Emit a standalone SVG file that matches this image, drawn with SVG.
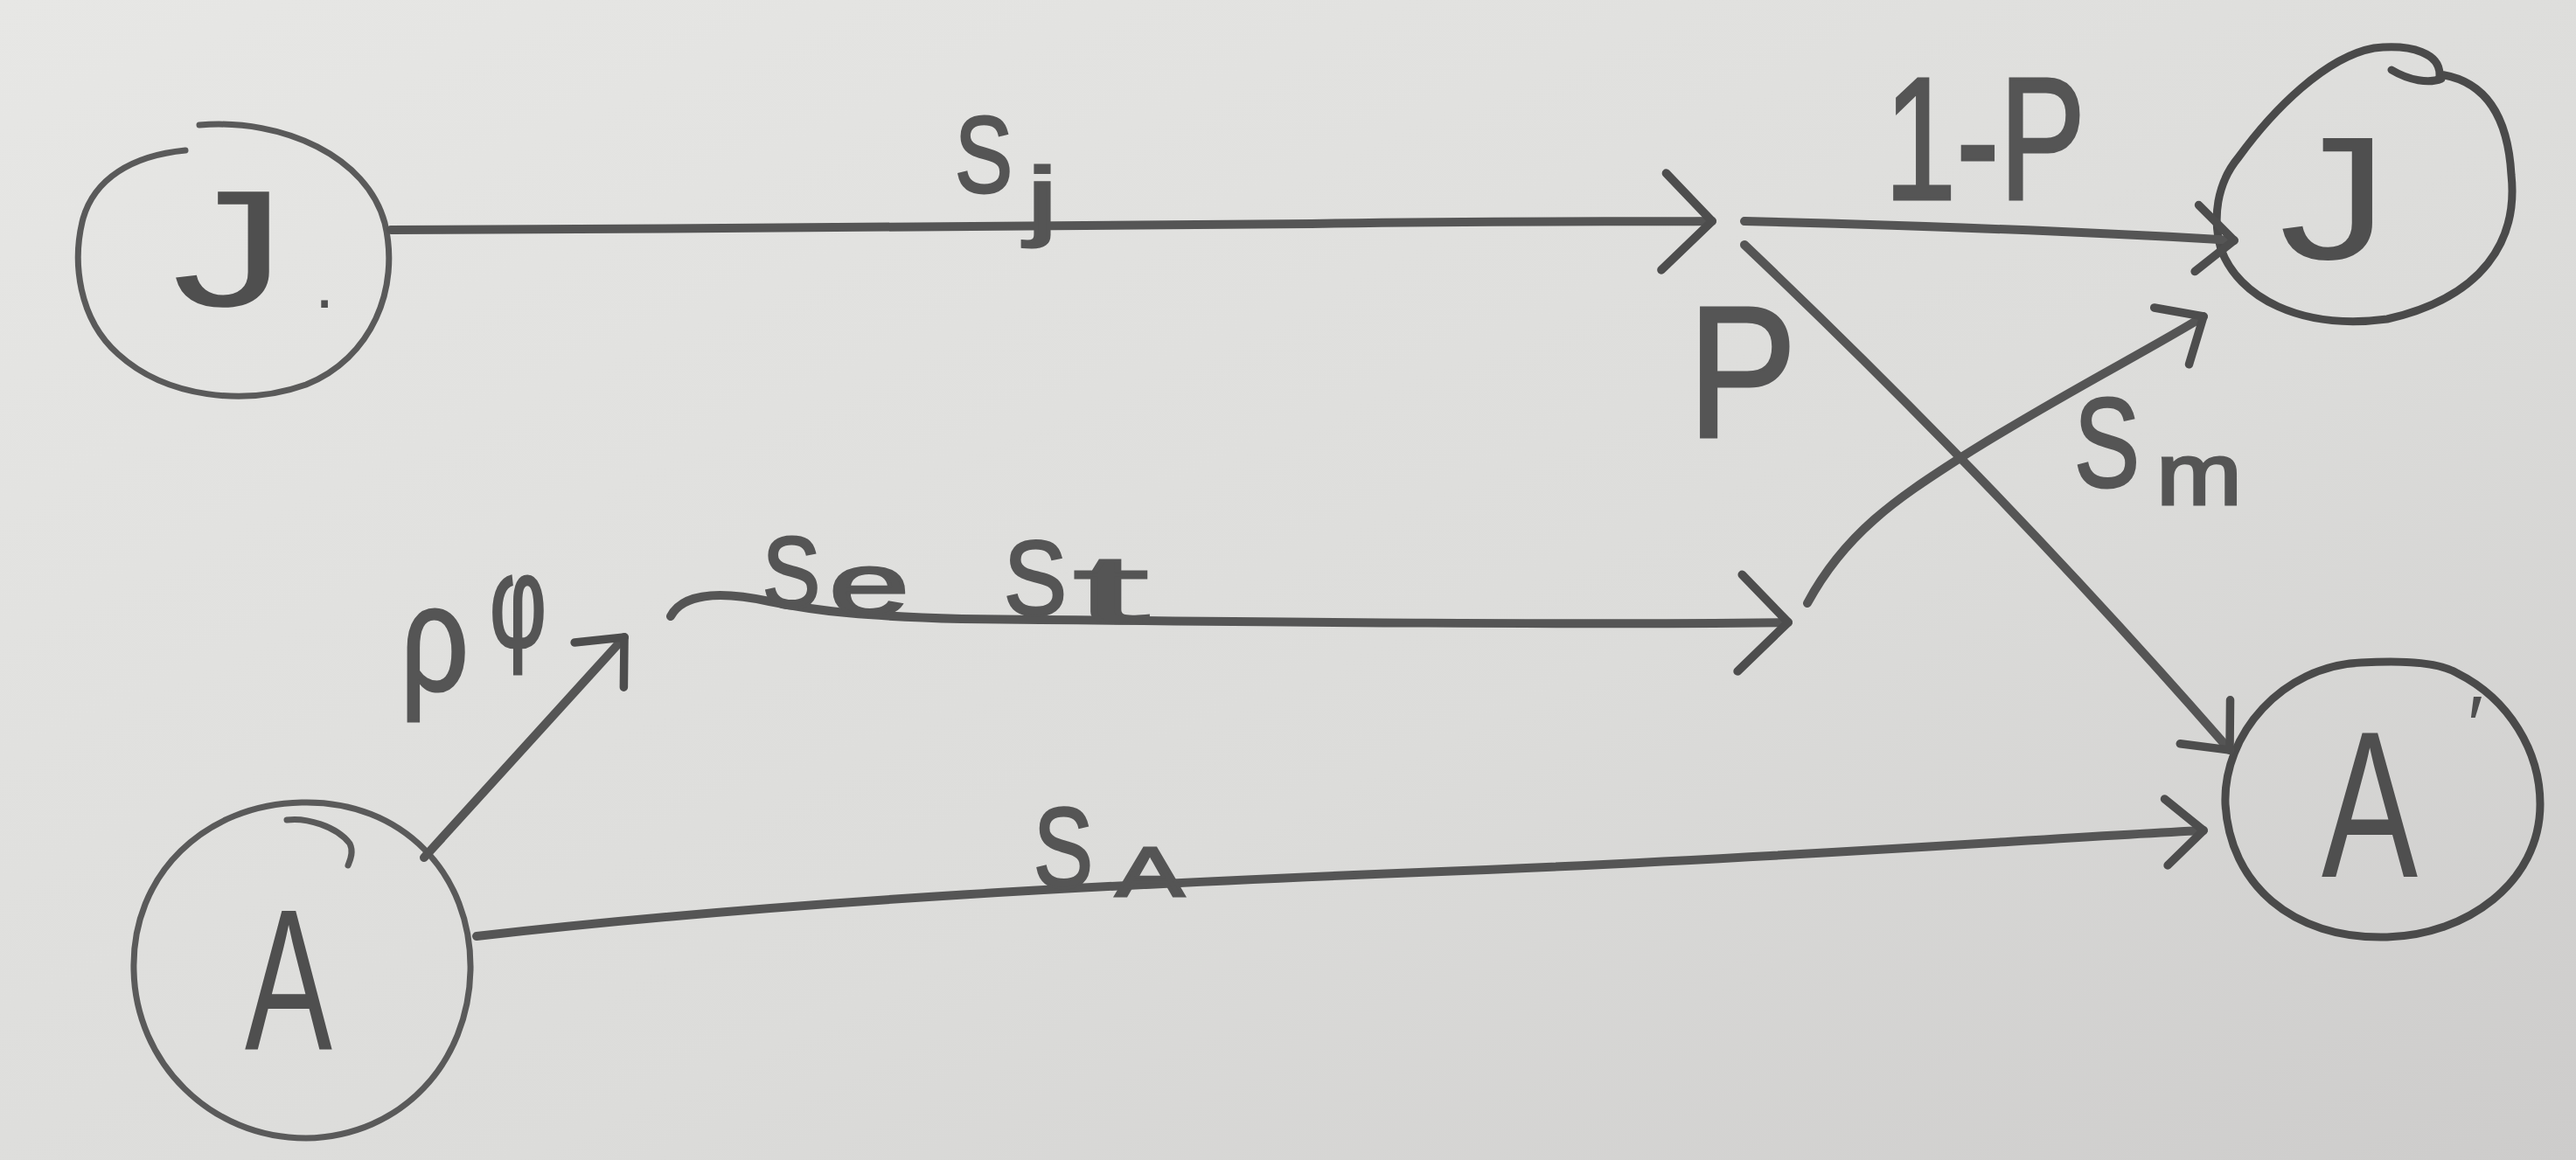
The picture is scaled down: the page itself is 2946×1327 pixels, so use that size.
<svg xmlns="http://www.w3.org/2000/svg" width="2946" height="1327" viewBox="0 0 2946 1327">
  <defs>
    <linearGradient id="paper" x1="0" y1="0" x2="1" y2="1">
      <stop offset="0" stop-color="#e7e7e5"/>
      <stop offset="0.6" stop-color="#dcdcda"/>
      <stop offset="1" stop-color="#cdcccb"/>
    </linearGradient>
    <marker id="ahL" viewBox="0 0 20 20" refX="17" refY="10" markerWidth="130" markerHeight="130" markerUnits="userSpaceOnUse" orient="auto">
      <path d="M9,1.5 L17,10 L8,18.5" fill="none" stroke="#4d4d4d" stroke-width="1.5" stroke-linecap="round" stroke-linejoin="round"/>
    </marker>
    <marker id="ahS" viewBox="0 0 20 20" refX="17" refY="10" markerWidth="95" markerHeight="95" markerUnits="userSpaceOnUse" orient="auto">
      <path d="M8,2 L17,10 L8,18" fill="none" stroke="#4d4d4d" stroke-width="2" stroke-linecap="round" stroke-linejoin="round"/>
    </marker>
  </defs>
  <style>
    .node { fill: none; stroke: #5a5a5a; stroke-width: 7; stroke-linecap: round; }
    .node.dark { stroke: #4a4a4a; stroke-width: 9; }
    .edge { fill: none; stroke: #555555; stroke-width: 10; stroke-linecap: round; stroke-linejoin: round; }
    .lbl { font-family: "Liberation Sans", "DejaVu Sans", sans-serif; fill: #555555; stroke: #555555; stroke-width: 3; }
    .nlbl { font-family: "Liberation Sans", "DejaVu Sans", sans-serif; fill: #4f4f4f; }
  </style>

  <rect x="0" y="0" width="2946" height="1327" fill="url(#paper)"/>

  <!-- Nodes -->
  <g id="node-J-left">
    <path class="node" d="M228,143 C325,135 420,180 440,255 C458,330 425,410 350,440 C280,465 190,455 135,405 C90,365 82,300 95,250 C108,205 150,178 212,172"/>
    <text class="nlbl" font-size="190"><tspan x="197" y="350" textLength="130" lengthAdjust="spacingAndGlyphs">J</tspan><tspan x="360" y="352" font-size="80">.</tspan></text>
  </g>

  <g id="node-J-right">
    <path class="node dark" d="M2560,180 C2600,125 2660,65 2715,55 C2760,50 2790,62 2790,85 C2840,92 2868,130 2872,200 C2880,275 2840,340 2730,365 C2630,378 2560,340 2540,285 C2530,250 2535,210 2560,180 Z"/>
    <path class="node dark" d="M2735,80 C2755,92 2778,96 2792,90"/>
    <text class="nlbl" x="2669" y="296" font-size="200" text-anchor="middle" textLength="125" lengthAdjust="spacingAndGlyphs">J</text>
  </g>

  <g id="node-A-left">
    <path class="node" d="M345,918 C460,915 540,1000 538,1110 C536,1215 460,1300 350,1302 C240,1302 155,1215 153,1110 C150,1000 235,920 345,918 Z"/>
    <path class="node" d="M328,938 C350,935 385,945 400,965 C405,975 400,985 398,990"/>
    <text class="nlbl" x="330" y="1200" font-size="230" text-anchor="middle" textLength="100" lengthAdjust="spacingAndGlyphs">A</text>
  </g>

  <g id="node-A-right">
    <path class="node dark" d="M2700,758 C2750,755 2790,758 2810,770 C2870,800 2905,860 2905,920 C2905,1010 2820,1070 2730,1072 C2620,1075 2550,1010 2545,920 C2542,840 2610,762 2700,758 Z"/>
    <text class="nlbl" font-size="240"><tspan x="2655" y="1003" textLength="110" lengthAdjust="spacingAndGlyphs">A</tspan><tspan x="2822" y="862" font-size="95">′</tspan></text>
  </g>

  <!-- Connectors -->
  <g id="connectors">
    <path class="edge" marker-end="url(#ahL)" d="M447,263 C800,262 1200,258 1500,256 C1700,252 1850,254 1958,253"/>
    <path class="edge" marker-end="url(#ahS)" d="M1995,253 C2200,258 2400,266 2555,275"/>
    <path class="edge" marker-end="url(#ahS)" d="M1995,280 Q2290,560 2550,858"/>
    <path class="edge" marker-end="url(#ahS)" d="M2067,690 C2110,610 2170,570 2240,525 C2350,455 2450,405 2520,362"/>
    <path class="edge" marker-end="url(#ahL)" d="M767,705 C780,680 820,675 880,688 C940,700 990,705 1100,708 C1500,712 1800,715 2045,712"/>
    <path class="edge" marker-end="url(#ahS)" d="M485,981 L714,729"/>
    <path class="edge" marker-end="url(#ahS)" d="M545,1071 C900,1030 1300,1010 1700,995 C2100,978 2350,958 2520,950"/>
  </g>

  <!-- Edge labels -->
  <g id="labels">
    <text class="lbl" x="1092" y="220" font-size="125" textLength="66" lengthAdjust="spacingAndGlyphs">S</text>
    <text class="lbl" x="1174" y="262" font-size="100" textLength="36" lengthAdjust="spacingAndGlyphs">j</text>

    <text class="lbl" x="2155" y="228" font-size="200" textLength="230" lengthAdjust="spacingAndGlyphs">1-P</text>

    <text class="lbl" x="1930" y="500" font-size="215" textLength="125" lengthAdjust="spacingAndGlyphs">P</text>

    <text class="lbl" x="2372" y="557" font-size="145" textLength="75" lengthAdjust="spacingAndGlyphs">S</text>
    <text class="lbl" x="2466" y="577" font-size="100" textLength="98" lengthAdjust="spacingAndGlyphs">m</text>

    <text class="lbl" x="458" y="790" font-size="170" textLength="78" lengthAdjust="spacingAndGlyphs">ρ</text>
    <text class="lbl" x="560" y="740" font-size="150" textLength="65" lengthAdjust="spacingAndGlyphs">φ</text>

    <text class="lbl" x="872" y="695" font-size="115" textLength="66" lengthAdjust="spacingAndGlyphs">S</text>
    <text class="lbl" x="948" y="703" font-size="100" textLength="92" lengthAdjust="spacingAndGlyphs">e</text>

    <text class="lbl" x="1148" y="703" font-size="120" textLength="72" lengthAdjust="spacingAndGlyphs">S</text>
    <text class="lbl" x="1228" y="712" font-size="110" textLength="85" lengthAdjust="spacingAndGlyphs">t</text>

    <text class="lbl" x="1182" y="1015" font-size="130" textLength="68" lengthAdjust="spacingAndGlyphs">S</text>
    <text class="lbl" x="1276" y="1025" font-size="80" textLength="78" lengthAdjust="spacingAndGlyphs">A</text>
  </g>
</svg>
